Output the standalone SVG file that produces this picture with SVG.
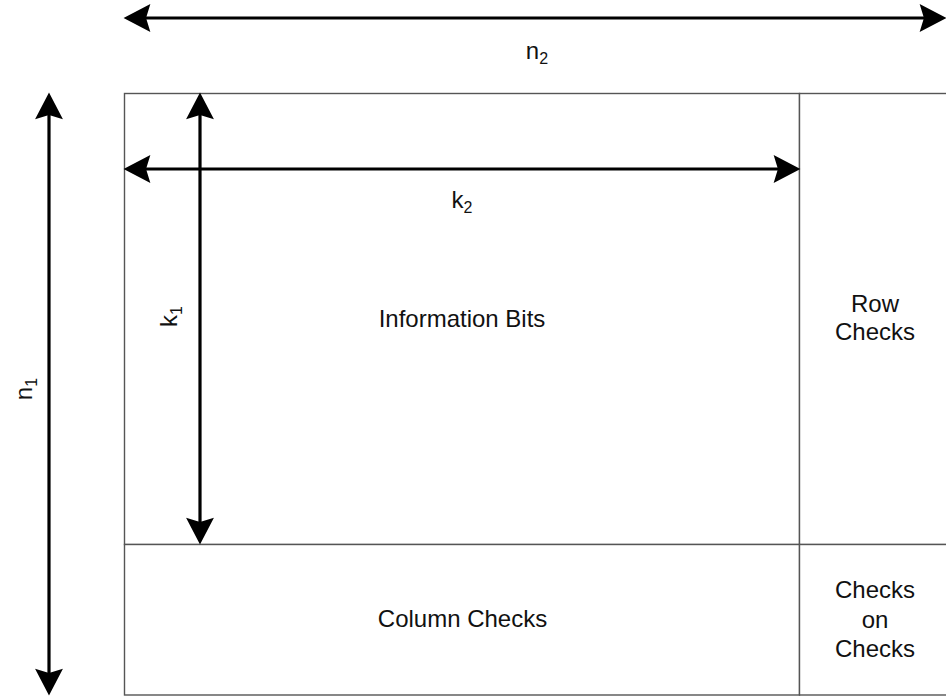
<svg xmlns="http://www.w3.org/2000/svg" width="946" height="698" viewBox="0 0 946 698">
  <style>
    .cell { fill: #ffffff; stroke: #555555; stroke-width: 1.4; }
    .lbl { font-family: "Liberation Sans", Arial, sans-serif; font-size: 24px; fill: #111111; text-anchor: middle; }
    .sub { font-size: 16px; }
    .dim { fill: none; stroke: #000000; stroke-width: 3.2; marker-start: url(#head); marker-end: url(#head); }
  </style>
  <defs>
    <!-- notched arrowhead; tip sits 20px beyond the line end -->
    <marker id="head" markerUnits="userSpaceOnUse" markerWidth="30" markerHeight="30" viewBox="-1 -14 28 28" refX="5" refY="0" orient="auto-start-reverse">
      <path d="M0,-13 L25,0 L0,13 L4,0 Z" fill="#000000"/>
    </marker>
  </defs>

  <rect width="946" height="698" fill="#ffffff"/>

  <!-- product code array -->
  <g id="information-bits">
    <rect class="cell" x="124.5" y="93.5" width="675" height="451"/>
    <text class="lbl" x="462" y="327">Information Bits</text>
  </g>
  <g id="row-checks">
    <rect class="cell" x="799.5" y="93.5" width="156" height="451"/>
    <text class="lbl" x="875" y="312">Row</text>
    <text class="lbl" x="875" y="340">Checks</text>
  </g>
  <g id="column-checks">
    <rect class="cell" x="124.5" y="544.5" width="675" height="150.5"/>
    <text class="lbl" x="462.5" y="627">Column Checks</text>
  </g>
  <g id="checks-on-checks">
    <rect class="cell" x="799.5" y="544.5" width="156" height="150.5"/>
    <text class="lbl" x="875" y="598">Checks</text>
    <text class="lbl" x="875" y="628">on</text>
    <text class="lbl" x="875" y="657">Checks</text>
  </g>

  <!-- dimension arrows -->
  <g id="connectors">
    <path class="dim" d="M145,18 H925"/>
    <path class="dim" d="M145,169 H779"/>
    <path class="dim" d="M49,114 V674"/>
    <path class="dim" d="M200,114 V523"/>

    <text class="lbl" x="537" y="59">n<tspan class="sub" dy="5">2</tspan></text>
    <text class="lbl" x="462" y="208">k<tspan class="sub" dy="5">2</tspan></text>
    <text class="lbl" transform="translate(177,316.5) rotate(-90)">k<tspan class="sub" dy="5">1</tspan></text>
    <text class="lbl" transform="translate(32,389) rotate(-90)">n<tspan class="sub" dy="5">1</tspan></text>
  </g>
</svg>
